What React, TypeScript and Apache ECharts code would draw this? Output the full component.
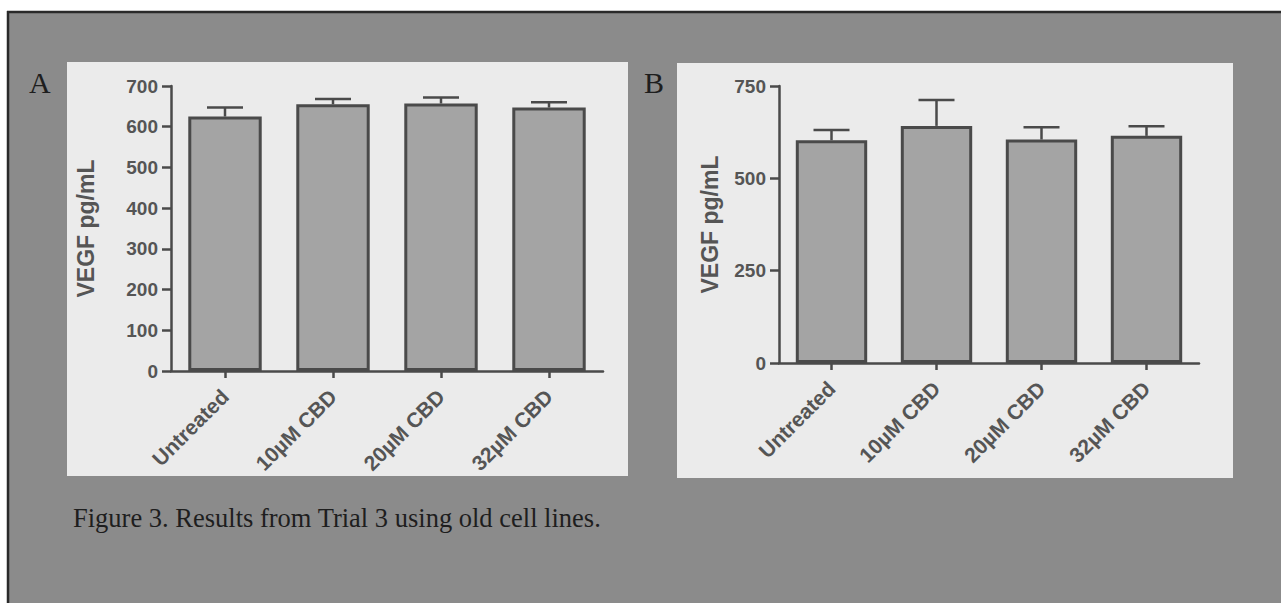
import React, { useEffect, useRef } from "react";
import * as echarts from "echarts";

const categories = ["Untreated", "10\u00B5M CBD", "20\u00B5M CBD", "32\u00B5M CBD"];
const valuesA = [625, 655, 657, 647];
const errorsA = [22, 13, 15, 13];
const valuesB = [603, 642, 605, 615];
const errorsB = [28, 70, 33, 26];
const yTicksA = [0, 100, 200, 300, 400, 500, 600, 700];
const yTicksB = [0, 250, 500, 750];
const yAxisTitle = "VEGF pg/mL";
const caption = "Figure 3. Results from Trial 3 using old cell lines.";
const panelLabels = ["A", "B"];

const AXIS = "#4a4a4a";
const TXT = "#555555";
const SANS = "'Liberation Sans', Arial, sans-serif";
const SERIF = "'Liberation Serif', 'Times New Roman', serif";

function errSeries(idx: number, values: number[], errors: number[]) {
  return {
    type: "custom",
    xAxisIndex: idx,
    yAxisIndex: idx,
    z: 3,
    encode: { x: 0, y: [1, 2] },
    data: values.map((v, i) => [i, v, v + errors[i]]),
    renderItem: (params: any, api: any) => {
      const lo = api.coord([api.value(0), api.value(1)]);
      const hi = api.coord([api.value(0), api.value(2)]);
      const half = 18;
      const st = { stroke: AXIS, lineWidth: 2.5 };
      return {
        type: "group",
        children: [
          { type: "line", shape: { x1: lo[0], y1: lo[1], x2: hi[0], y2: hi[1] }, style: st },
          { type: "line", shape: { x1: hi[0] - half, y1: hi[1], x2: hi[0] + half, y2: hi[1] }, style: st },
        ],
      };
    },
  };
}

function xAxisDef(idx: number) {
  return {
    type: "category",
    gridIndex: idx,
    data: categories,
    axisLine: { show: true, lineStyle: { color: AXIS, width: 2.5 } },
    axisTick: { show: true, alignWithLabel: true, length: 7, lineStyle: { color: AXIS, width: 2.5 } },
    axisLabel: {
      rotate: 45,
      margin: 22,
      color: TXT,
      fontFamily: SANS,
      fontWeight: "bold",
      fontSize: 21,
      interval: 0,
    },
  };
}

function yAxisDef(idx: number, ticks: number[], gap: number) {
  return {
    type: "value",
    gridIndex: idx,
    min: ticks[0],
    max: ticks[ticks.length - 1],
    interval: ticks[1] - ticks[0],
    name: yAxisTitle,
    nameLocation: "middle",
    nameRotate: 90,
    nameGap: gap,
    nameTextStyle: { color: TXT, fontFamily: SANS, fontWeight: "bold", fontSize: 23 },
    splitLine: { show: false },
    axisLine: { show: true, lineStyle: { color: AXIS, width: 2.5 } },
    axisTick: { show: true, length: 9, lineStyle: { color: AXIS, width: 2.5 } },
    axisLabel: { margin: 13, color: TXT, fontFamily: SANS, fontWeight: "bold", fontSize: 19 },
  };
}

function barSeries(idx: number, values: number[]) {
  return {
    type: "bar",
    xAxisIndex: idx,
    yAxisIndex: idx,
    barWidth: "68%",
    z: 4,
    data: values,
    itemStyle: { color: "#a4a4a4", borderColor: AXIS, borderWidth: 3 },
  };
}

export default function App() {
  const ref = useRef<HTMLDivElement>(null);
  useEffect(() => {
    if (!ref.current) return;
    const chart = echarts.init(ref.current, undefined, { renderer: "svg", width: 1281, height: 603 });
    chart.setOption({
      animation: false,
      backgroundColor: "#ffffff",
      graphic: [
        { type: "rect", z: -10, shape: { x: 8, y: 12, width: 1273, height: 591 }, style: { fill: "#8b8b8b" } },
        { type: "line", z: -9, shape: { x1: 7, y1: 12, x2: 1281, y2: 12 }, style: { stroke: "#2a2a2a", lineWidth: 2.5 } },
        { type: "line", z: -9, shape: { x1: 8, y1: 11, x2: 8, y2: 603 }, style: { stroke: "#2a2a2a", lineWidth: 2.5 } },
        { type: "rect", z: -8, shape: { x: 67, y: 62, width: 561, height: 414 }, style: { fill: "#ebebeb" } },
        { type: "rect", z: -8, shape: { x: 677, y: 63, width: 556, height: 415 }, style: { fill: "#ebebeb" } },
        { type: "text", z: -7, x: 29, y: 82, style: { text: panelLabels[0], font: `30px ${SERIF}`, fill: "#1e1e1e", textVerticalAlign: "middle" } },
        { type: "text", z: -7, x: 644, y: 82, style: { text: panelLabels[1], font: `30px ${SERIF}`, fill: "#1e1e1e", textVerticalAlign: "middle" } },
        { type: "text", z: -7, x: 73, y: 518, style: { text: caption, font: `26.5px ${SERIF}`, fill: "#1e1e1e", textVerticalAlign: "middle" } },
      ],
      grid: [
        { left: 171, top: 86, width: 432, height: 285 },
        { left: 779, top: 86, width: 420, height: 277 },
      ],
      xAxis: [xAxisDef(0), xAxisDef(1)],
      yAxis: [yAxisDef(0, yTicksA, 74), yAxisDef(1, yTicksB, 58)],
      series: [barSeries(0, valuesA), errSeries(0, valuesA, errorsA), barSeries(1, valuesB), errSeries(1, valuesB, errorsB)],
    });
    return () => chart.dispose();
  }, []);
  return <div ref={ref} style={{ position: "fixed", left: 0, top: 0, width: 1281, height: 603 }} />;
}
